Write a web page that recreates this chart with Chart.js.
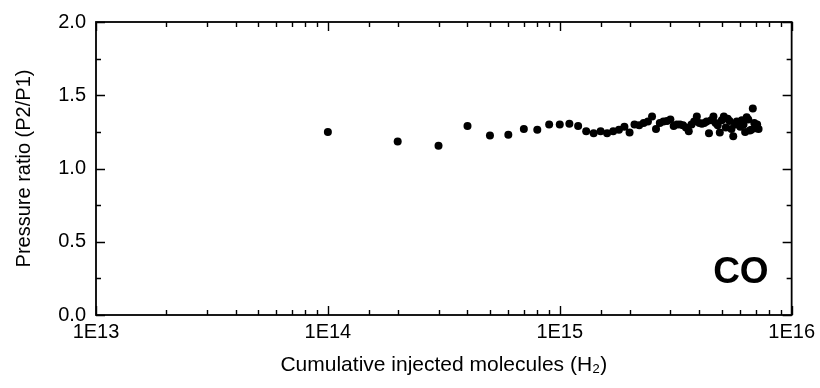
<!DOCTYPE html>
<html>
<head>
<meta charset="utf-8">
<script src="https://cdn.jsdelivr.net/npm/chart.js@4.4.1/dist/chart.umd.min.js"></script>
<style>
html, body { margin: 0; padding: 0; background: #fff; }
#wrap { width: 820px; height: 388px; position: relative; }
</style>
</head>
<body>
<div id="wrap"><canvas id="ratioChart"></canvas></div>
<script>
// Cumulative injected H2 molecules (x) and pressure ratio P2/P1 (y)
const injected = [
    1e14, 2e14, 3e14, 4e14, 5e14, 6e14, 7e14, 8e14, 9e14,
    1.0e15, 1.1e15, 1.2e15, 1.3e15, 1.4e15, 1.5e15, 1.6e15, 1.7e15, 1.8e15, 1.9e15,
    2.0e15, 2.1e15, 2.2e15, 2.3e15, 2.4e15, 2.5e15, 2.6e15, 2.7e15, 2.8e15, 2.9e15,
    3.0e15, 3.1e15, 3.2e15, 3.3e15, 3.4e15, 3.5e15, 3.6e15, 3.7e15, 3.8e15, 3.9e15,
    4.0e15, 4.1e15, 4.2e15, 4.3e15, 4.4e15, 4.5e15, 4.6e15, 4.7e15, 4.8e15, 4.9e15,
    5.0e15, 5.1e15, 5.2e15, 5.3e15, 5.4e15, 5.5e15, 5.6e15, 5.7e15, 5.8e15, 5.9e15,
    6.0e15, 6.1e15, 6.2e15, 6.3e15, 6.4e15, 6.5e15, 6.6e15, 6.7e15, 6.8e15, 6.9e15,
    7.0e15, 7.1e15, 7.2e15
];
const pressureRatio = [
    1.25, 1.185, 1.155, 1.29, 1.225, 1.23, 1.27, 1.265, 1.30,
    1.30, 1.305, 1.29, 1.255, 1.24, 1.255, 1.24, 1.255, 1.265, 1.285,
    1.245, 1.30, 1.295, 1.31, 1.32, 1.355, 1.27, 1.31, 1.32, 1.325,
    1.335, 1.29, 1.30, 1.30, 1.295, 1.28, 1.255, 1.30, 1.32, 1.355,
    1.31, 1.305, 1.31, 1.32, 1.24, 1.33, 1.355, 1.31, 1.295, 1.245,
    1.33, 1.355, 1.28, 1.34, 1.325, 1.27, 1.22, 1.30, 1.32, 1.31,
    1.285, 1.33, 1.30, 1.25, 1.35, 1.335, 1.26, 1.265, 1.41, 1.31,
    1.275, 1.30, 1.27
];
const xTickLabels = ['1E13', '1E14', '1E15', '1E16'];
const yTickLabels = ['0.0', '0.5', '1.0', '1.5', '2.0'];
const gasLabel = 'CO';

const FONT = "'Liberation Sans', Arial, sans-serif";

// Frame with inward ticks on all four sides, plus the gas label
const frameTicks = {
    id: 'frameTicks',
    afterDraw(chart) {
        const { ctx, chartArea: a, scales } = chart;
        ctx.save();
        ctx.strokeStyle = '#000';
        ctx.lineWidth = 1.8;
        ctx.strokeRect(a.left, a.top, a.right - a.left, a.bottom - a.top);

        ctx.lineWidth = 1.4;
        ctx.beginPath();
        scales.x.ticks.forEach(t => {
            const px = Math.round(scales.x.getPixelForValue(t.value)) + 0.5;
            const major = Math.abs(Math.log10(t.value) - Math.round(Math.log10(t.value))) < 1e-9;
            const len = major ? 9 : 5;
            ctx.moveTo(px, a.bottom); ctx.lineTo(px, a.bottom - len);
            ctx.moveTo(px, a.top); ctx.lineTo(px, a.top + len);
        });
        scales.y.ticks.forEach(t => {
            const py = Math.round(scales.y.getPixelForValue(t.value)) + 0.5;
            const major = Math.abs(t.value * 2 - Math.round(t.value * 2)) < 1e-9;
            const len = major ? 9 : 5;
            ctx.moveTo(a.left, py); ctx.lineTo(a.left + len, py);
            ctx.moveTo(a.right, py); ctx.lineTo(a.right - len, py);
        });
        ctx.stroke();

        ctx.fillStyle = '#000';
        ctx.font = 'bold 37px ' + FONT;
        ctx.textAlign = 'right';
        ctx.textBaseline = 'alphabetic';
        ctx.fillText(gasLabel, a.right - 23, a.bottom - 32);
        ctx.restore();
    }
};

const ctx = document.getElementById('ratioChart').getContext('2d');
const ratioChart = new Chart(ctx, {
    type: 'scatter',
    data: {
        datasets: [{
            label: 'CO',
            data: injected.map((x, i) => ({ x: x, y: pressureRatio[i] })),
            backgroundColor: '#000',
            borderWidth: 0,
            pointRadius: 4,
            pointHoverRadius: 4
        }]
    },
    options: {
        responsive: true,
        maintainAspectRatio: false,
        animation: false,
        events: [],
        layout: { padding: { top: 21, right: 28, left: 0, bottom: 0 } },
        plugins: {
            legend: { display: false },
            tooltip: { enabled: false }
        },
        scales: {
            x: {
                type: 'logarithmic',
                min: 1e13,
                max: 1e16,
                grid: { display: false, drawTicks: false },
                border: { display: false },
                ticks: {
                    autoSkip: false,
                    maxRotation: 0,
                    padding: 5,
                    color: '#000',
                    font: { family: FONT, size: 20 },
                    callback: v => {
                        const e = Math.log10(v);
                        if (Math.abs(e - Math.round(e)) > 1e-9) return '';
                        return xTickLabels[Math.round(e) - 13] || '';
                    }
                },
                title: {
                    display: true,
                    text: 'Cumulative injected molecules (H\u2082)',
                    color: '#000',
                    font: { family: FONT, size: 21 },
                    padding: { top: 0, bottom: 10 }
                },
                afterFit: s => { s.height = 73; }
            },
            y: {
                min: 0,
                max: 2,
                grid: { display: false, drawTicks: false },
                border: { display: false },
                ticks: {
                    stepSize: 0.25,
                    padding: 10,
                    color: '#000',
                    font: { family: FONT, size: 20 },
                    callback: v => {
                        const k = v * 2;
                        if (Math.abs(k - Math.round(k)) > 1e-9) return '';
                        return yTickLabels[Math.round(k)];
                    }
                },
                title: {
                    display: true,
                    text: 'Pressure ratio (P2/P1)',
                    color: '#000',
                    font: { family: FONT, size: 20 },
                    padding: { top: 12, bottom: 0 }
                },
                afterFit: s => { s.width = 96; }
            }
        }
    },
    plugins: [frameTicks]
});
</script>
</body>
</html>
